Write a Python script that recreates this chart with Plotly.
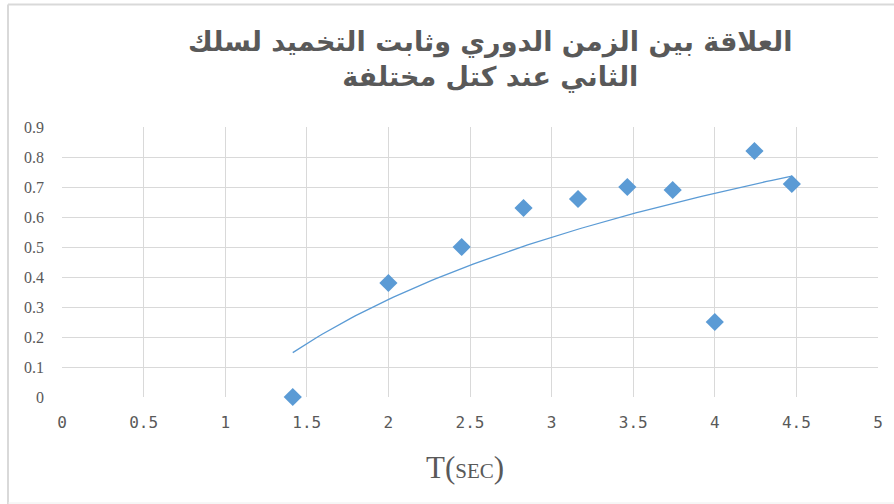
import numpy as np
import plotly.graph_objects as go

# Period T (s) and damping constant for the second wire
period_t = [1.414, 2.0, 2.449, 2.828, 3.162, 3.464, 3.742, 4.0, 4.243, 4.472]
damping = [0.0, 0.38, 0.50, 0.63, 0.66, 0.70, 0.69, 0.25, 0.82, 0.71]

x_ticks = [0, 0.5, 1, 1.5, 2, 2.5, 3, 3.5, 4, 4.5, 5]
y_ticks = [0, 0.1, 0.2, 0.3, 0.4, 0.5, 0.6, 0.7, 0.8, 0.9]

title_text = "العلاقة بين الزمن الدوري وثابت التخميد لسلك<br>الثاني عند كتل مختلفة"

blue = "#5B9BD5"
grid = "#D9D9D9"
tick_col = "#595959"

# Logarithmic trendline y = a*ln(x) + b, least squares on the data
a, b = np.polyfit(np.log(period_t), damping, 1)
trend_x = np.linspace(min(period_t), max(period_t), 120)
trend_y = a * np.log(trend_x) + b

L, R, T, B = 62, 16, 127, 107
W, H = 894, 504
pw, ph = W - L - R, H - T - B


def px(xp):
    return (xp - L) / pw


def py(yp):
    return (H - B - yp) / ph


fig = go.Figure()
fig.add_trace(go.Scatter(
    x=period_t, y=damping, mode="markers",
    marker=dict(symbol="diamond", size=14, color=blue, line=dict(width=0)),
    showlegend=False, cliponaxis=False,
))
fig.add_trace(go.Scatter(
    x=trend_x, y=trend_y, mode="lines",
    line=dict(color=blue, width=1.3),
    showlegend=False,
))

fig.update_layout(
    width=W, height=H,
    margin=dict(l=L, r=R, t=T, b=B),
    paper_bgcolor="white", plot_bgcolor="white",
    xaxis=dict(
        range=[0, 5], tickvals=x_ticks, ticktext=[str(v) for v in x_ticks],
        showgrid=True, gridcolor=grid, gridwidth=1,
        zeroline=False, showline=False, ticks="",
        tickfont=dict(family="DejaVu Sans Mono", size=16, color=tick_col),
        ticklabelstandoff=14,
    ),
    yaxis=dict(
        range=[0, 0.9], tickvals=y_ticks, ticktext=[f"{v:g}" for v in y_ticks],
        showgrid=True, gridcolor=grid, gridwidth=1,
        zeroline=False, showline=False, ticks="",
        tickfont=dict(family="Liberation Serif", size=16, color=tick_col),
        ticklabelstandoff=17,
    ),
    annotations=[
        dict(
            text=title_text,
            xref="paper", yref="paper", x=px(490), y=py(59),
            xanchor="center", yanchor="middle", showarrow=False, align="center",
            font=dict(family="DejaVu Sans", size=27, color="#595959", weight="bold"),
        ),
        dict(
            text="T(<span style='font-size:21px'>SEC</span>)",
            xref="paper", yref="paper", x=px(465), y=py(467),
            xanchor="center", yanchor="middle", showarrow=False,
            font=dict(family="Liberation Serif", size=31, color=tick_col),
        ),
    ],
    shapes=[
        # chart frame: top and left edges, faint bottom edge
        dict(type="line", xref="paper", yref="paper",
             x0=px(8), x1=px(894), y0=py(4.5), y1=py(4.5),
             line=dict(color=grid, width=2)),
        dict(type="line", xref="paper", yref="paper",
             x0=px(8), x1=px(8), y0=py(4.5), y1=py(504),
             line=dict(color=grid, width=2)),
        dict(type="line", xref="paper", yref="paper",
             x0=px(8), x1=px(894), y0=py(503), y1=py(503),
             line=dict(color="#EEEEEE", width=1)),
    ],
)

fig.write_html("out.html")
